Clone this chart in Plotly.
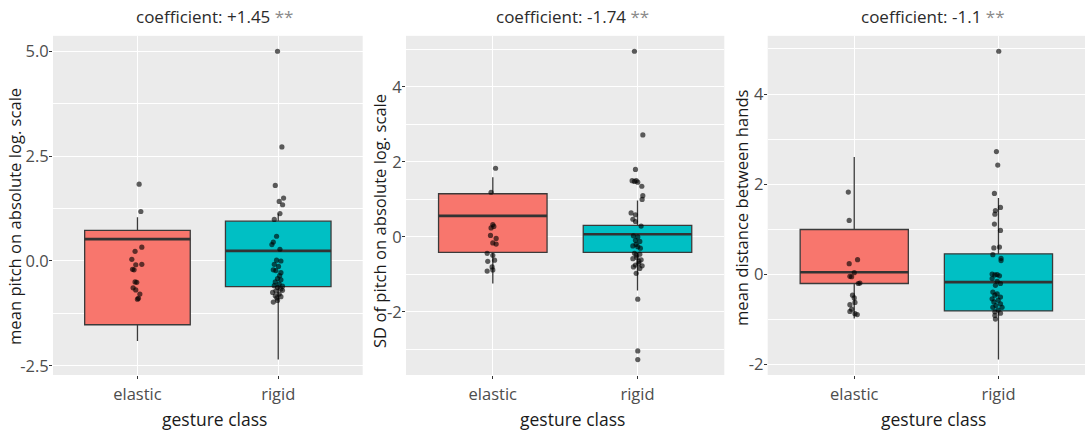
import plotly.graph_objects as go

# ---------------- data ----------------
categories = ["elastic", "rigid"]
titles = ["coefficient: +1.45", "coefficient: -1.74", "coefficient: -1.1"]
title_marks = ["**", "**", "**"]
y_titles = ["mean pitch on absolute log. scale", "SD of pitch on absolute log. scale",
            "mean distance between hands"]
x_title = "gesture class"

# box stats per panel: [elastic, rigid]
q1 = [[-1.52, -0.61], [-0.41, -0.41], [-0.21, -0.82]]
med = [[0.52, 0.24], [0.56, 0.07], [0.04, -0.18]]
q3 = [[0.73, 0.95], [1.15, 0.31], [0.99, 0.45]]
lo = [[-1.91, -2.35], [-1.24, -1.43], [-0.99, -1.90]]
hi = [[1.04, 1.13], [1.59, 0.97], [2.60, 1.69]]

# jittered points (value, horizontal jitter in category units)
p1_el_y = [1.83, 1.18, 0.33, 0.23, 0.04, -0.08, -0.09, -0.20, -0.21, -0.50, -0.51, -0.64, -0.69, -0.79, -0.89, -0.91]
p1_el_j = [0.012, 0.024, 0.031, -0.017, -0.040, 0.031, -0.012, -0.035, -0.024, -0.017, -0.005, -0.031, -0.012, 0.017, 0.007, 0.0]
p1_ri_y = [5.0, 2.72, 1.80, 1.50, 1.42, 1.34, 1.13, 0.99, 0.59, 0.45, 0.39, 0.28, 0.02, 0.00, -0.08, -0.13,
           -0.21, -0.23, -0.28, -0.35, -0.42, -0.45, -0.50, -0.55, -0.59, -0.60, -0.63, -0.67, -0.70, -0.71,
           -0.75, -0.79, -0.83, -0.85, -0.88, -0.94, -0.98]
p1_ri_j = [-0.005, 0.026, -0.021, 0.038, 0.007, 0.031, 0.012, -0.028, -0.012, -0.035, -0.045, 0.012, -0.012, 0.019,
           -0.028, 0.002, -0.035, -0.017, 0.019, 0.010, -0.005, 0.019, -0.021, 0.007, -0.028, 0.030, -0.005, 0.019,
           0.030, -0.017, -0.040, 0.007, -0.021, 0.019, -0.010, -0.005, -0.035]

p2_el_y = [1.83, 1.19, 0.33, 0.28, 0.24, 0.04, -0.04, -0.16, -0.19, -0.44, -0.49, -0.65, -0.62, -0.80, -0.91, -0.88]
p2_el_j = [0.019, -0.012, 0.0, 0.007, -0.012, -0.016, 0.023, 0.0, 0.023, -0.039, 0.0, -0.035, 0.012, -0.005, -0.039, 0.0]
p2_ri_y = [4.95, 2.72, 1.80, 1.50, 1.50, 1.46, 1.48, 1.35, 1.10, 1.00, 0.64, 0.59, 0.47, 0.41, 0.29, 0.03, 0.00,
           -0.09, -0.12, -0.20, -0.24, -0.26, -0.30, -0.44, -0.46, -0.48, -0.55, -0.58, -0.61, -0.65, -0.71,
           -0.75, -0.77, -0.80, -0.84, -0.97, -1.66, -3.04, -3.27]
p2_ri_j = [-0.021, 0.037, -0.014, -0.037, -0.009, 0.002, -0.021, 0.030, 0.037, 0.032, -0.044, -0.014, -0.032, -0.014,
           0.025, -0.028, 0.002, -0.014, 0.016, -0.010, -0.032, 0.002, 0.020, -0.021, 0.016, -0.009, -0.005, -0.032,
           0.025, 0.010, 0.009, -0.014, 0.032, -0.028, 0.016, -0.009, 0.002, 0.002, 0.002]

p3_el_y = [1.82, 1.19, 0.32, 0.23, 0.03, -0.05, -0.06, -0.20, -0.21, -0.47, -0.53, -0.63, -0.68, -0.78, -0.83, -0.88, -0.90]
p3_el_j = [-0.041, -0.035, 0.023, -0.035, 0.0, -0.030, -0.018, 0.039, 0.028, -0.012, 0.0, 0.005, -0.030, -0.018, -0.030, 0.005, 0.021]
p3_ri_y = [4.95, 2.72, 2.42, 1.79, 1.48, 1.41, 1.33, 1.11, 0.97, 0.58, 0.60, 0.43, 0.35, 0.30, 0.00, -0.01, -0.02,
           -0.04, -0.10, -0.16, -0.21, -0.25, -0.40, -0.44, -0.47, -0.51, -0.55, -0.58, -0.62, -0.66, -0.70,
           -0.74, -0.74, -0.80, -0.84, -0.87, -0.92, -1.00]
p3_ri_j = [0.002, -0.014, -0.005, -0.028, 0.014, -0.021, -0.025, -0.028, 0.014, -0.032, 0.007, -0.039, 0.018, 0.018,
           -0.044, -0.009, -0.025, 0.007, -0.044, -0.009, 0.014, -0.021, -0.039, -0.009, -0.025, 0.014, -0.044,
           -0.002, -0.032, 0.014, -0.018, -0.039, 0.025, -0.002, -0.025, 0.014, -0.025, -0.021]

points_y = [[p1_el_y, p1_ri_y], [p2_el_y, p2_ri_y], [p3_el_y, p3_ri_y]]
points_j = [[p1_el_j, p1_ri_j], [p2_el_j, p2_ri_j], [p3_el_j, p3_ri_j]]

y_tickvals = [[-2.5, 0.0, 2.5, 5.0], [-2, 0, 2, 4], [-2, 0, 2, 4]]
y_ticktext = [["-2.5", "0.0", "2.5", "5.0"], ["-2", "0", "2", "4"], ["-2", "0", "2", "4"]]
y_minor = [1.25, 1.0, 1.0]

# ---------------- style / layout ----------------
W, H = 1087, 435
fills = ["#F8766D", "#00BFC4"]
panel_px = [(53, 362.7), (406, 724.3), (767.7, 1085)]
top_px, bot_px = 36, 376.7
ytitle_px = [(15, 218), (380, 222), (741, 209)]
box_w = 0.75

fig = go.Figure()
annotations = []
font = "Open Sans"

for p in range(3):
    xa = "x" if p == 0 else f"x{p+1}"
    ya = "y" if p == 0 else f"y{p+1}"
    for c in range(2):
        fig.add_trace(go.Box(
            x=[c], q1=[q1[p][c]], median=[med[p][c]], q3=[q3[p][c]],
            lowerfence=[lo[p][c]], upperfence=[hi[p][c]],
            width=box_w, whiskerwidth=0, fillcolor=fills[c],
            line=dict(color="#3a3a3a", width=1.3), boxpoints=False,
            xaxis=xa, yaxis=ya, showlegend=False, hoverinfo="skip"))
        # thick median line (ggplot style)
        fig.add_trace(go.Scatter(
            x=[c - box_w / 2, c + box_w / 2], y=[med[p][c], med[p][c]],
            mode="lines", line=dict(color="#333333", width=2.6),
            xaxis=xa, yaxis=ya, showlegend=False, hoverinfo="skip"))
        fig.add_trace(go.Scatter(
            x=[c + j for j in points_j[p][c]], y=points_y[p][c], mode="markers",
            marker=dict(color="rgba(0,0,0,0.62)", size=5.2, line=dict(width=0)),
            xaxis=xa, yaxis=ya, showlegend=False, hoverinfo="skip"))

    allv = [v for s in points_y[p] for v in s] + lo[p] + hi[p]
    vmin, vmax = min(allv), max(allv)
    pad = (vmax - vmin) * 0.05
    dom_x = [panel_px[p][0] / W, panel_px[p][1] / W]
    dom_y = [1 - bot_px / H, 1 - top_px / H]
    fig.layout[("xaxis" if p == 0 else f"xaxis{p+1}")] = dict(
        domain=dom_x, anchor=ya, range=[-0.6, 1.6], tickvals=[0, 1], ticktext=categories,
        showgrid=True, gridcolor="white", gridwidth=1.1, zeroline=False,
        ticks="outside", ticklen=3, tickcolor="#333333", tickwidth=1, ticklabelstandoff=1,
        tickfont=dict(family=font, size=16.5, color="#4D4D4D"), showline=False)
    fig.layout[("yaxis" if p == 0 else f"yaxis{p+1}")] = dict(
        domain=dom_y, anchor=xa, range=[vmin - pad, vmax + pad],
        tickvals=y_tickvals[p], ticktext=y_ticktext[p],
        showgrid=True, gridcolor="white", gridwidth=1.1, zeroline=False,
        minor=dict(dtick=y_minor[p], tick0=0, showgrid=True, gridcolor="white", gridwidth=0.5, ticks=""),
        ticks="outside", ticklen=3, tickcolor="#333333", tickwidth=1, ticklabelstandoff=-3,
        tickfont=dict(family=font, size=16.5, color="#4D4D4D"), showline=False)

    cx = (panel_px[p][0] + panel_px[p][1]) / 2 + 7
    title_html = f"{titles[p]} <span style='color:#8a8a8a'>{title_marks[p]}</span>"
    annotations.append(dict(text=title_html, x=cx / W, y=1 - 17 / H, xref="paper", yref="paper",
                            showarrow=False, xanchor="center", yanchor="middle",
                            font=dict(family=font, size=17, color="#2b2b2b")))
    annotations.append(dict(text=x_title, x=cx / W, y=1 - 421 / H, xref="paper", yref="paper",
                            showarrow=False, xanchor="center", yanchor="middle",
                            font=dict(family=font, size=17.5, color="#1a1a1a")))
    annotations.append(dict(text=y_titles[p], x=ytitle_px[p][0] / W, y=1 - ytitle_px[p][1] / H,
                            xref="paper", yref="paper", textangle=-90,
                            showarrow=False, xanchor="center", yanchor="middle",
                            font=dict(family=font, size=16.6, color="#1a1a1a")))

fig.update_layout(
    width=W, height=H, margin=dict(l=0, r=0, t=0, b=0),
    paper_bgcolor="white", plot_bgcolor="#EBEBEB", boxmode="overlay",
    annotations=annotations, showlegend=False)

fig.write_html("out.html")
